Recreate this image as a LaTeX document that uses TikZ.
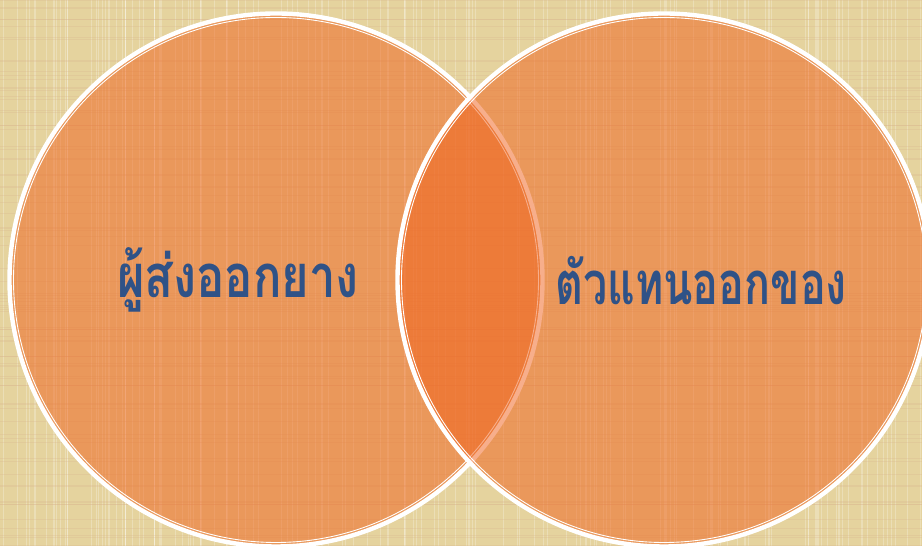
\documentclass[tikz,border=0pt]{standalone}
\usepackage{fontspec}
\usepackage{tikz}
\usetikzlibrary{positioning, calc}
\newfontfamily\thaifont[Script=Thai]{Loma}
\definecolor{bgbeige}{RGB}{229,211,158}
\definecolor{setorange}{RGB}{240,95,25}
\definecolor{labelblue}{RGB}{47,82,135}

\tikzset{
  setdisk/.style={circle, inner sep=0pt, minimum size=10.66cm,
    fill=setorange, fill opacity=0.5, draw=white, line width=2.5pt},
  innerrim/.style={white, line width=0.5pt},
  setlabel/.style={text=labelblue, font=\thaifont\bfseries\fontsize{34}{40}\selectfont},
  weave/.style={line width=0.6pt, opacity=0.25}
}

\begin{document}
\begin{tikzpicture}[x=1cm,y=1cm]

% ==================== Sfondo ====================
\useasboundingbox (0,0) rectangle (18.44,10.92);
\clip (0,0) rectangle (18.44,10.92);
\fill[bgbeige] (0,0) rectangle (18.44,10.92);
% trama della tela
\pgfmathsetseed{7}
\foreach \i in {1,...,140} {
  \pgfmathsetmacro{\xx}{rnd*18.44}
  \draw[weave, white] (\xx,0) -- (\xx,10.92);
}
\foreach \i in {1,...,80} {
  \pgfmathsetmacro{\yy}{rnd*10.92}
  \draw[weave, brown!60] (0,\yy) -- (18.44,\yy);
}

% ==================== Insieme sinistro ====================
\node[setdisk] (exporter) at (5.52,5.32) {};
\draw[innerrim] (exporter.center) circle (5.25);

% ==================== Insieme destro ====================
\node[setdisk] (agent) at (13.28,5.32) {};
\draw[innerrim] (agent.center) circle (5.25);

% Etichette
\node[setlabel] (exporterlabel) at (4.76,5.32) {\scalebox{0.79}[1]{ผู้ส่งออกยาง}};
\node[setlabel] (agentlabel) at (14.02,5.30) {\scalebox{0.72}[1]{ตัวแทนออกของ}};

\end{tikzpicture}
\end{document}
